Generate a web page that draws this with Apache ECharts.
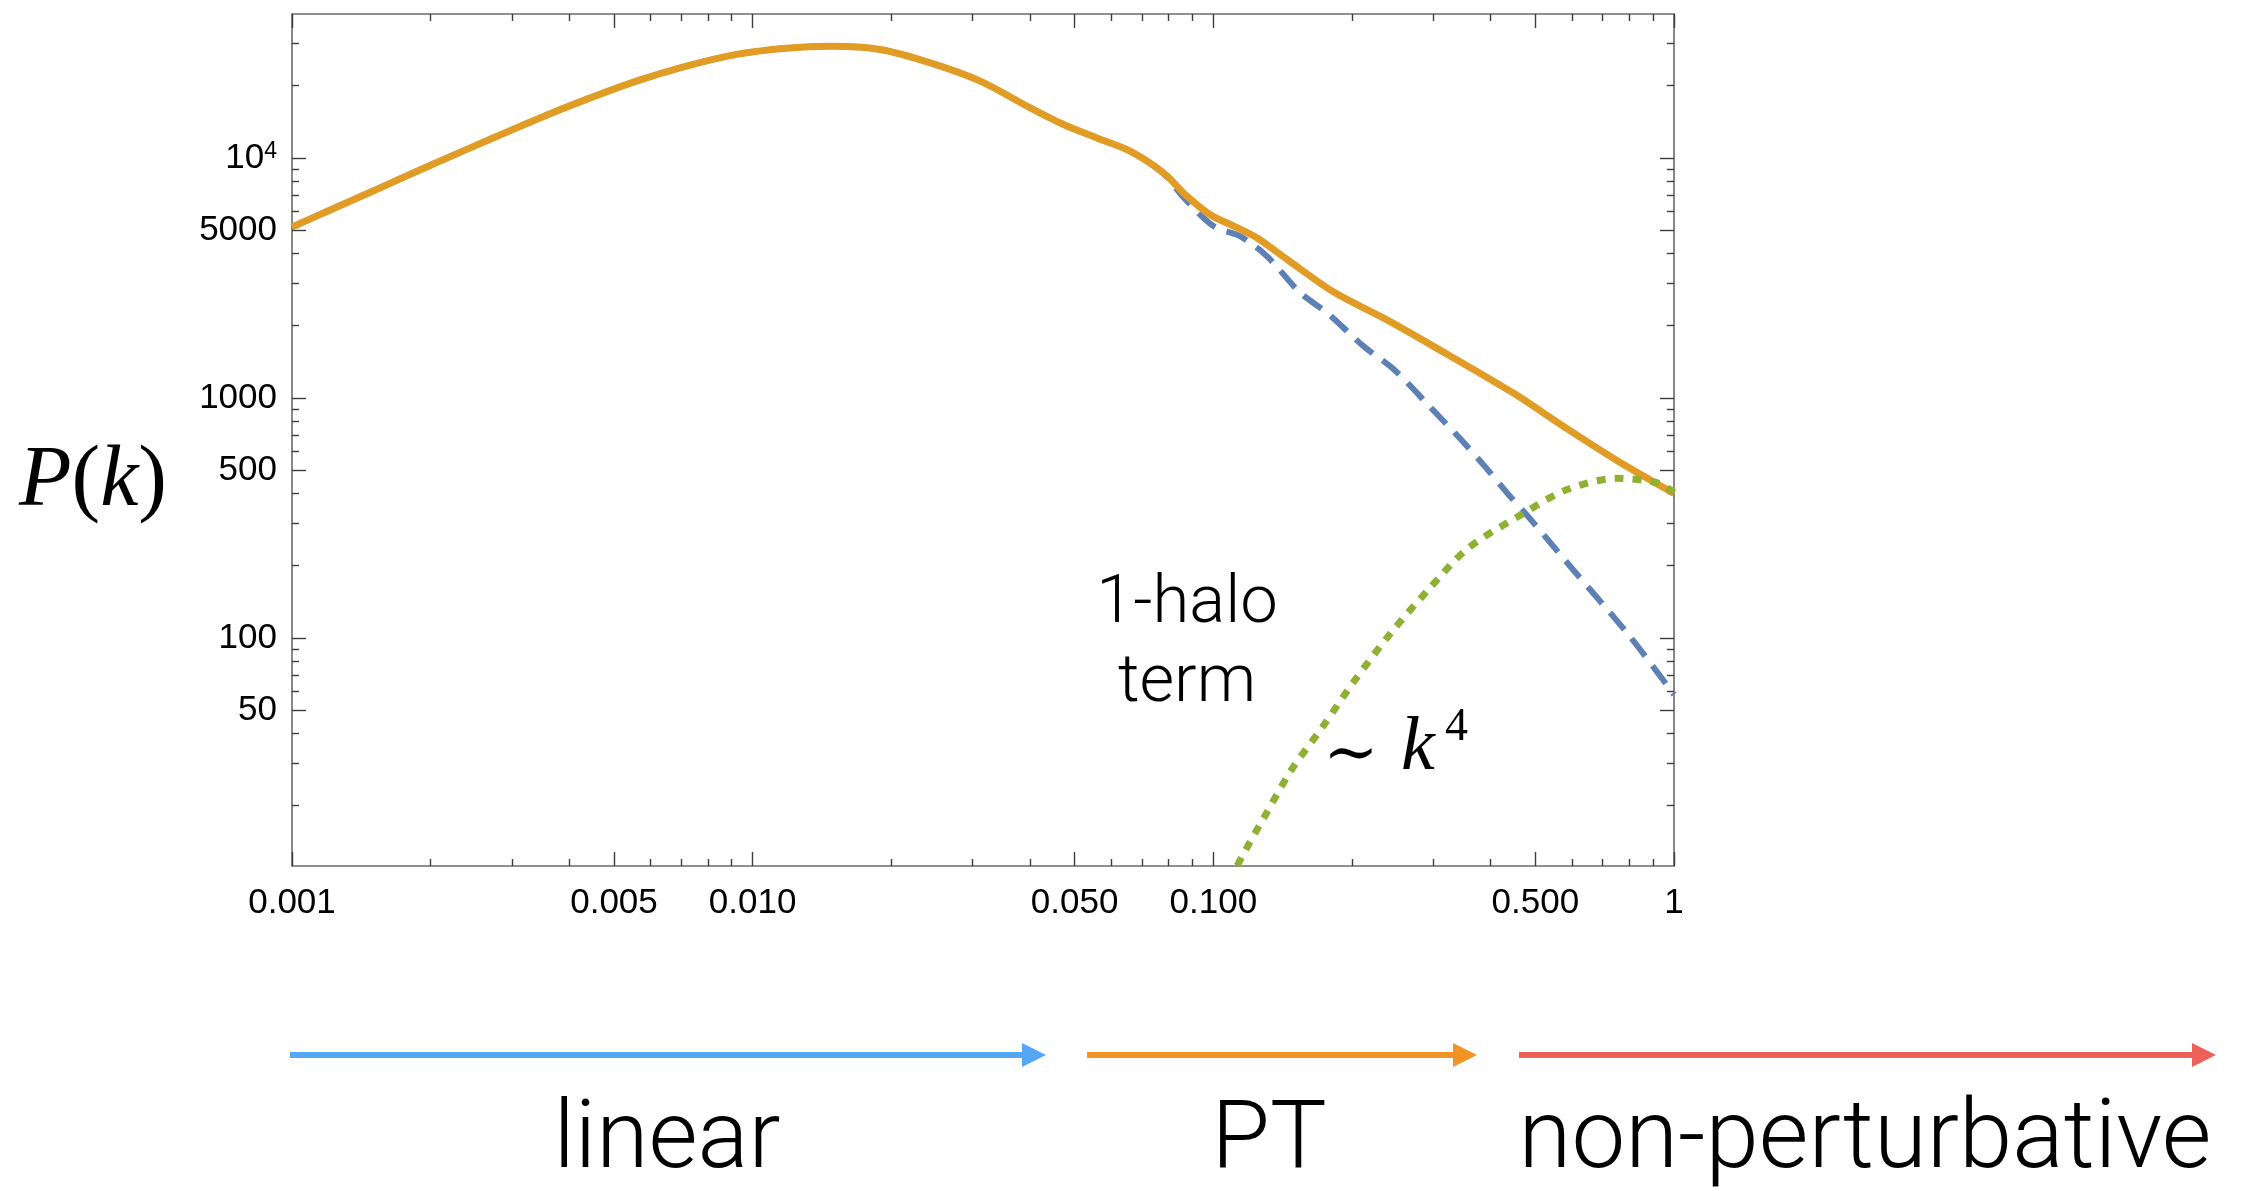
<!DOCTYPE html>
<html><head><meta charset="utf-8">
<script src="https://cdn.jsdelivr.net/npm/echarts@6/dist/echarts.min.js"></script>
<style>html,body{margin:0;padding:0;background:#fff}#c{width:2241px;height:1191px}</style>
</head><body><div id="c"></div>
<script>
// ---- data ----
const kTotal = [0.001, 0.00118, 0.0016, 0.00205, 0.00263, 0.00338, 0.00434, 0.00557, 0.00715, 0.00917, 0.0118, 0.0148, 0.0189, 0.0243, 0.0312, 0.0401, 0.0473, 0.0559, 0.0661, 0.078, 0.0875, 0.0985, 0.112, 0.1245, 0.1445, 0.1825, 0.2344, 0.3007, 0.447, 0.576, 0.75, 1];
const pTotal = [5150, 5940, 7700, 9530, 11730, 14440, 17500, 20860, 24080, 26940, 28650, 29200, 28300, 24900, 20900, 16150, 13780, 12110, 10650, 8660, 6950, 5800, 5150, 4640, 3780, 2760, 2150, 1640, 1050, 760, 550, 400];

const kLinear = [0.001, 0.00118, 0.0016, 0.00205, 0.00263, 0.00338, 0.00434, 0.00557, 0.00715, 0.00917, 0.0118, 0.0148, 0.0189, 0.0243, 0.0312, 0.0401, 0.0473, 0.0559, 0.0661, 0.078, 0.0862, 0.1002, 0.1145, 0.1308, 0.1545, 0.1766, 0.2121, 0.247, 0.295, 0.35, 0.393, 0.435, 0.493, 0.61, 0.8, 1];
const pLinear = [5150, 5940, 7700, 9530, 11730, 14440, 17500, 20860, 24080, 26940, 28650, 29200, 28300, 24900, 20900, 16150, 13780, 12110, 10650, 8600, 6850, 5190, 4710, 3890, 2740, 2260, 1640, 1310, 920, 650, 505, 400, 305, 188, 102, 58];

const kHalo = [0.105, 0.112, 0.1294, 0.148, 0.173, 0.201, 0.243, 0.294, 0.356, 0.467, 0.586, 0.752, 0.91, 1];
const pHalo = [8.2, 11, 18.1, 28.3, 42.8, 65, 105, 160, 235, 327, 415, 462, 445, 405];

// ---- ticks ----
const xMajorTicks = [0.001, 0.005, 0.01, 0.05, 0.1, 0.5, 1];
const xTickLabels = ['0.001', '0.005', '0.010', '0.050', '0.100', '0.500', '1'];
const xMinorTicks = [0.002, 0.003, 0.004, 0.006, 0.007, 0.008, 0.009, 0.02, 0.03, 0.04, 0.06, 0.07, 0.08, 0.09, 0.2, 0.3, 0.4, 0.6, 0.7, 0.8, 0.9];
const yMajorTicks = [50, 100, 500, 1000, 5000, 10000];
const yTickLabels = ['50', '100', '500', '1000', '5000', '{b|10}{s|4}'];
const yMinorTicks = [20, 30, 40, 60, 70, 80, 90, 200, 300, 400, 600, 700, 800, 900, 2000, 3000, 4000, 6000, 7000, 8000, 9000, 20000, 30000];
const kRange = [0.001, 1];
const pRange = [11.2, 39800];

const L = v => Math.log10(v);
const pairs = (ks, ps) => ks.map((k, i) => [L(k), L(ps[i])]);
const labelFor = (ticks, labels) => v => {
  for (let i = 0; i < ticks.length; i++) if (Math.abs(L(ticks[i]) - v) < 1e-6) return labels[i];
  return '';
};

const frameColor = '#6a6a6a', tickColor = '#3c3c3c';
const tickFont = "'Liberation Sans', Arial, Helvetica, sans-serif";
const lightFont = "Roboto, 'Open Sans', sans-serif";
const serif = "'Liberation Serif', 'Times New Roman', serif";

function axis(dim, pos, ticks, len, labels, line) {
  const o = {
    type: 'value', position: pos,
    min: dim === 'x' ? L(kRange[0]) : L(pRange[0]),
    max: dim === 'x' ? L(kRange[1]) : L(pRange[1]),
    axisLine: {show: line, onZero: false, lineStyle: {color: frameColor, width: 1.6}},
    axisTick: {show: true, inside: true, length: len, customValues: ticks.map(L), lineStyle: {color: tickColor, width: 1.4}},
    splitLine: {show: false},
    axisLabel: {show: false}
  };
  if (labels) {
    o.axisLabel = {
      show: true, customValues: ticks.map(L), formatter: labelFor(ticks, labels),
      margin: dim === 'x' ? 20 : 15, fontSize: 35, fontFamily: tickFont, color: '#000',
      rich: {
        b: {fontSize: 35, fontFamily: tickFont, color: '#000'},
        s: {fontSize: 23, fontFamily: tickFont, color: '#000', verticalAlign: 'top'}
      }
    };
  }
  return o;
}

const chart = echarts.init(document.getElementById('c'), null, {renderer: 'canvas'});
chart.setOption({
  animation: false,
  backgroundColor: '#fff',
  grid: {left: 292, top: 14, width: 1382, height: 852, containLabel: false, outerBoundsMode: 'none'},
  xAxis: [
    axis('x', 'bottom', xMajorTicks, 14, xTickLabels, true),
    axis('x', 'bottom', xMinorTicks, 7, null, false),
    axis('x', 'top', xMajorTicks, 14, null, true),
    axis('x', 'top', xMinorTicks, 7, null, false)
  ],
  yAxis: [
    axis('y', 'left', yMajorTicks, 14, yTickLabels, true),
    axis('y', 'left', yMinorTicks, 7, null, false),
    axis('y', 'right', yMajorTicks, 14, null, true),
    axis('y', 'right', yMinorTicks, 7, null, false)
  ],
  series: [
    {type: 'line', name: 'linear', data: pairs(kLinear, pLinear), xAxisIndex: 0, yAxisIndex: 0, showSymbol: false, symbol: 'none',
     smooth: 0.3, clip: true, lineStyle: {color: '#5E81B5', width: 6, type: [22, 12]}, z: 2},
    {type: 'line', name: 'total', data: pairs(kTotal, pTotal), xAxisIndex: 0, yAxisIndex: 0, showSymbol: false, symbol: 'none',
     smooth: 0.3, clip: true, lineStyle: {color: '#E09C24', width: 7}, z: 3},
    {type: 'line', name: '1-halo', data: pairs(kHalo, pHalo), xAxisIndex: 0, yAxisIndex: 0, showSymbol: false, symbol: 'none',
     smooth: 0.3, clip: true, lineStyle: {color: '#8FB032', width: 7, type: [9, 9]}, z: 4}
  ],
  graphic: [
    {type: 'text', x: 19, y: 482, style: {text: '{i|P}{r|(}{i|k}{r|)}', verticalAlign: 'middle', align: 'left', rich: {
      i: {fontFamily: serif, fontStyle: 'italic', fontSize: 86, fill: '#000'},
      r: {fontFamily: serif, fontSize: 86, fill: '#000'}}}},
    {type: 'text', x: 1187, y: 605, style: {text: '1-halo', fontFamily: lightFont, fontWeight: 300, fontSize: 67, fill: '#000', align: 'center', verticalAlign: 'middle'}},
    {type: 'text', x: 1187, y: 684, style: {text: 'term', fontFamily: lightFont, fontWeight: 300, fontSize: 67, fill: '#000', align: 'center', verticalAlign: 'middle'}},
    {type: 'text', x: 1351, y: 757, style: {text: '\u223C', fontFamily: "'DejaVu Serif', serif", fontSize: 66, fill: '#000', align: 'center', verticalAlign: 'middle'}},
    {type: 'text', x: 1401, y: 749, style: {text: 'k', fontFamily: serif, fontStyle: 'italic', fontSize: 76, fill: '#000', align: 'left', verticalAlign: 'middle'}},
    {type: 'text', x: 1445, y: 728, style: {text: '4', fontFamily: serif, fontSize: 46, fill: '#000', align: 'left', verticalAlign: 'middle'}},
    // region arrows
    {type: 'line', shape: {x1: 290, y1: 1055, x2: 1026, y2: 1055}, style: {stroke: '#55A6F4', lineWidth: 6}},
    {type: 'polygon', shape: {points: [[1022, 1043], [1046, 1055], [1022, 1067]]}, style: {fill: '#55A6F4'}},
    {type: 'line', shape: {x1: 1087, y1: 1055, x2: 1457, y2: 1055}, style: {stroke: '#F29325', lineWidth: 6}},
    {type: 'polygon', shape: {points: [[1453, 1043], [1477, 1055], [1453, 1067]]}, style: {fill: '#F29325'}},
    {type: 'line', shape: {x1: 1519, y1: 1055, x2: 2196, y2: 1055}, style: {stroke: '#EE605A', lineWidth: 6}},
    {type: 'polygon', shape: {points: [[2192, 1043], [2216, 1055], [2192, 1067]]}, style: {fill: '#EE605A'}},
    {type: 'text', x: 667, y: 1143, style: {text: 'linear', fontFamily: lightFont, fontWeight: 300, fontSize: 95, fill: '#000', align: 'center', verticalAlign: 'middle'}},
    {type: 'text', x: 1269, y: 1143, style: {text: 'PT', fontFamily: lightFont, fontWeight: 300, fontSize: 95, fill: '#000', align: 'center', verticalAlign: 'middle'}},
    {type: 'text', x: 1865, y: 1143, style: {text: 'non-perturbative', fontFamily: lightFont, fontWeight: 300, fontSize: 96, fill: '#000', align: 'center', verticalAlign: 'middle'}}
  ]
});
</script>
</body></html>
